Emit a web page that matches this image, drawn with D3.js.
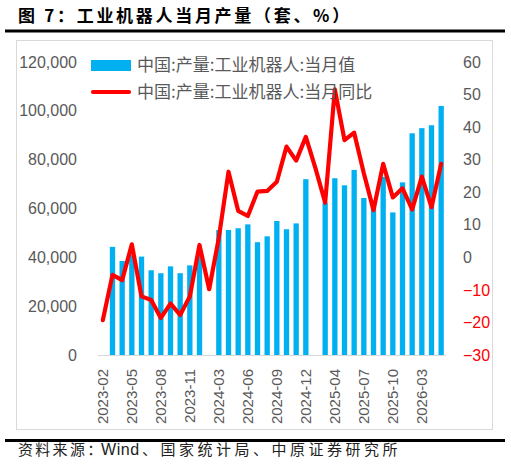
<!DOCTYPE html>
<html>
<head>
<meta charset="utf-8">
<script src="https://cdn.jsdelivr.net/npm/d3@7"></script>
<style>
  body { margin: 0; background: #fff; }
  svg { display: block; }
</style>
</head>
<body>
<div id="chart"></div>
<script>
const months = [
  "2023-02","2023-03","2023-04","2023-05","2023-06","2023-07","2023-08","2023-09","2023-10","2023-11","2023-12",
  "2024-02","2024-03","2024-04","2024-05","2024-06","2024-07","2024-08","2024-09","2024-10","2024-11","2024-12",
  "2025-02","2025-03","2025-04","2025-05","2025-06","2025-07","2025-08","2025-09","2025-10","2025-11","2025-12",
  "2026-03","2026-04","2026-05"
];
// 当月值 (套); null = no monthly value (Jan-Feb combined)
const output = [
  null, 44300, 38500, 41000, 40300, 34700, 33500, 36300, 33500, 36700, 42000,
  null, 51200, 51200, 51900, 53500, 46200, 48600, 54900, 51500, 53900, 72000,
  null, 62400, 72400, 69500, 75800, 64300, 62000, 73000, 58400, 70700, 90800,
  92900, 94100, 102000
];
// 当月同比 (%)
const yoy = [
  -19.3, -5.4, -7.0, 4.0, -12.0, -13.1, -18.6, -14.2, -17.7, -12.0, 3.8,
  -9.8, 6.0, 26.3, 14.3, 12.7, 20.2, 20.4, 23.2, 34.0, 29.7, 37.0,
  27.3, 16.8, 51.6, 36.0, 38.3, 25.8, 14.5, 28.7, 18.4, 21.2, 14.7,
  24.8, 15.4, 28.7
];
const leftTicks = [0, 20000, 40000, 60000, 80000, 100000, 120000];
const rightTicks = [-30, -20, -10, 0, 10, 20, 30, 40, 50, 60];
const seriesNames = ["中国:产量:工业机器人:当月值", "中国:产量:工业机器人:当月同比"];

const W = 511, H = 471;
const blue = "#00b0f0", red = "#ff0000", grey = "#595959";
const cjk = "'Noto Sans CJK SC', 'Noto Sans', sans-serif";
const latin = "'Liberation Sans', Arial, sans-serif";

const svg = d3.select("#chart").append("svg")
  .attr("width", W).attr("height", H)
  .attr("viewBox", `0 0 ${W} ${H}`);

// title
svg.append("text")
  .attr("x", 18).attr("y", 22)
  .attr("font-family", cjk).attr("font-weight", "bold")
  .attr("font-size", 17).attr("letter-spacing", 2.7)
  .attr("fill", "#000")
  .text("图 7：工业机器人当月产量（套、%）");

svg.append("rect").attr("x", 5).attr("y", 29.5).attr("width", 500).attr("height", 3).attr("fill", "#000");
svg.append("rect").attr("x", 16.5).attr("y", 40.5).attr("width", 476).attr("height", 389)
  .attr("fill", "none").attr("stroke", "#d9d9d9");
svg.append("rect").attr("x", 5).attr("y", 439).attr("width", 500).attr("height", 3).attr("fill", "#000");

// source
const src = svg.append("g").attr("font-family", cjk).attr("font-size", 15).attr("fill", "#222");
src.append("text").attr("x", 18).attr("y", 455).attr("letter-spacing", 2.3).text("资料来源：");
src.append("text").attr("x", 101).attr("y", 455).attr("font-family", latin).attr("font-size", 16).attr("letter-spacing", 0.6).text("Wind");
src.append("text").attr("x", 142).attr("y", 455).attr("letter-spacing", 3.5).text("、国家统计局、中原证券研究所");

// scales
const x = d3.scaleBand().domain(months).range([98, 446]).paddingInner(0.45).paddingOuter(0.225);
const yL = d3.scaleLinear().domain([0, 120000]).range([355, 62]);
const yR = d3.scaleLinear().domain([-30, 60]).range([355, 62]);

// left axis
const fmt = d3.format(",");
svg.append("g").attr("transform", "translate(77,0)")
  .call(d3.axisLeft(yL).tickValues(leftTicks).tickSize(0).tickPadding(0).tickFormat(fmt))
  .call(g => g.select(".domain").remove())
  .call(g => g.selectAll("text").attr("fill", grey).attr("font-size", 16).attr("font-family", latin));

// right axis
svg.append("g").attr("transform", "translate(463,0)")
  .call(d3.axisRight(yR).tickValues(rightTicks).tickSize(0).tickPadding(0))
  .call(g => g.select(".domain").remove())
  .call(g => g.selectAll("text")
    .attr("fill", d => d < 0 ? red : grey)
    .attr("font-size", 16).attr("font-family", latin));

// bars
svg.append("g").selectAll("rect")
  .data(months.map((m, i) => ({ m, v: output[i] })).filter(d => d.v != null))
  .join("rect")
  .attr("x", d => x(d.m))
  .attr("width", x.bandwidth())
  .attr("y", d => yL(d.v))
  .attr("height", d => yL(0) - yL(d.v))
  .attr("fill", blue);

// baseline
svg.append("line").attr("x1", 98).attr("x2", 446).attr("y1", 355.5).attr("y2", 355.5)
  .attr("stroke", "#d9d9d9").attr("stroke-width", 1);

// line
const line = d3.line()
  .x((d, i) => x(months[i]) + x.bandwidth() / 2)
  .y(d => yR(d));
svg.append("path").datum(yoy)
  .attr("d", line)
  .attr("fill", "none").attr("stroke", red).attr("stroke-width", 4.2)
  .attr("stroke-linejoin", "round").attr("stroke-linecap", "round");

// x labels every 3rd month
svg.append("g").selectAll("text")
  .data(months.filter((m, i) => i % 3 === 0))
  .join("text")
  .attr("transform", d => `translate(${x(d) + x.bandwidth() / 2 + 5.5},369) rotate(-90)`)
  .attr("text-anchor", "end")
  .attr("font-family", latin).attr("font-size", 15).attr("fill", grey)
  .text(d => d);

// legend
const lg = svg.append("g").attr("font-family", cjk).attr("font-size", 17).attr("fill", grey);
lg.append("rect").attr("x", 91).attr("y", 60).attr("width", 40).attr("height", 11).attr("fill", blue);
lg.append("line").attr("x1", 93).attr("x2", 129).attr("y1", 92).attr("y2", 92)
  .attr("stroke", red).attr("stroke-width", 4.2).attr("stroke-linecap", "round");
lg.selectAll("text.lab").data(seriesNames).join("text")
  .attr("class", "lab")
  .attr("x", 137).attr("y", (d, i) => 65 + i * 27)
  .attr("dy", "0.35em")
  .text(d => d);
</script>
</body>
</html>
